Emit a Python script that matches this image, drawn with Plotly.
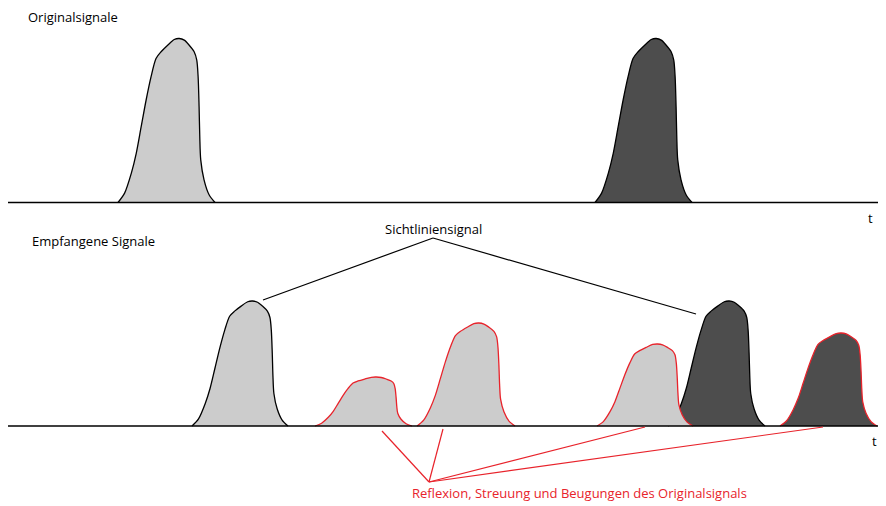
import plotly.graph_objects as go

# Pulse profile (fraction of width, fraction of height)
profile_u = [0.0, 0.068, 0.137, 0.188, 0.239, 0.290, 0.341, 0.392, 0.444, 0.512, 0.580,
             0.631, 0.683, 0.734, 0.785, 0.812, 0.826, 0.836, 0.843, 0.853, 0.887, 0.939, 1.0]
profile_v = [0.0, 0.057, 0.178, 0.300, 0.462, 0.625, 0.767, 0.878, 0.919, 0.959, 0.994,
             1.0, 0.990, 0.959, 0.919, 0.868, 0.767, 0.584, 0.402, 0.260, 0.138, 0.047, 0.0]

# Pulses (drawing order): start, width, height, panel, fill, outline
pulse_names   = ["orig1", "orig2", "los1", "refl1", "refl2", "los2", "refl3", "refl4"]
pulse_start   = [118, 595, 192, 315, 417, 668, 597, 780]
pulse_width   = [97, 97, 96, 97, 98, 97, 96, 97]
pulse_height  = [164, 164, 125, 49, 103, 125, 82, 93]
pulse_panel   = [0, 0, 1, 1, 1, 1, 1, 1]
pulse_fill    = ["light", "dark", "light", "light", "light", "dark", "light", "dark"]
pulse_outline = ["black", "black", "black", "red", "red", "black", "red", "red"]

panel_baseline = [202.5, 426]
RED = "#e8232b"
fills = {"light": "#cccccc", "dark": "#4d4d4d"}
outlines = {"black": "#000000", "red": RED}

fig = go.Figure()

for i in range(len(pulse_names)):
    base = panel_baseline[pulse_panel[i]]
    xs = [pulse_start[i] + u * pulse_width[i] for u in profile_u]
    ys = [base - v * pulse_height[i] for v in profile_v]
    fig.add_trace(go.Scatter(
        x=xs, y=ys, mode="lines", fill="toself",
        fillcolor=fills[pulse_fill[i]],
        line=dict(color=outlines[pulse_outline[i]], width=1.3, shape="spline", smoothing=0.8),
        hoverinfo="skip", showlegend=False))

# Baselines
for b in panel_baseline:
    fig.add_trace(go.Scatter(x=[8, 886], y=[b, b], mode="lines",
                             line=dict(color="black", width=1.6),
                             hoverinfo="skip", showlegend=False))

# Sichtlinien annotation lines
los_apex = (433, 238)
los_targets = [(263, 300), (696, 314)]
for tx, ty in los_targets:
    fig.add_trace(go.Scatter(x=[los_apex[0], tx], y=[los_apex[1], ty], mode="lines",
                             line=dict(color="black", width=1.2),
                             hoverinfo="skip", showlegend=False))

# Reflection annotation lines
refl_apex = (429, 482)
refl_targets = [(382, 431), (443, 429), (645, 427), (823, 427)]
for tx, ty in refl_targets:
    fig.add_trace(go.Scatter(x=[refl_apex[0], tx], y=[refl_apex[1], ty], mode="lines",
                             line=dict(color=RED, width=1.2),
                             hoverinfo="skip", showlegend=False))

# Texts
label_text = ["Originalsignale", "Empfangene Signale", "Sichtliniensignal", "t", "t",
              "Reflexion, Streuung und Beugungen des Originalsignals"]
label_x = [26, 30, 383, 866, 870, 410]
label_y = [17, 241, 229, 218, 441, 493]
label_color = ["black", "black", "black", "black", "black", RED]

for t, x, y, c in zip(label_text, label_x, label_y, label_color):
    fig.add_annotation(x=x, y=y, text=t, showarrow=False, xanchor="left", yanchor="middle",
                       font=dict(family="Open Sans", size=13, color=c))

# page body has an 8px margin, so the figure is offset; compensate in axis ranges
fig.update_layout(
    width=878, height=498,
    margin=dict(l=0, r=0, t=0, b=0),
    paper_bgcolor="white", plot_bgcolor="white",
    xaxis=dict(range=[8, 886], visible=False, fixedrange=True),
    yaxis=dict(range=[506, 8], visible=False, fixedrange=True),
)

fig.write_html("out.html")
